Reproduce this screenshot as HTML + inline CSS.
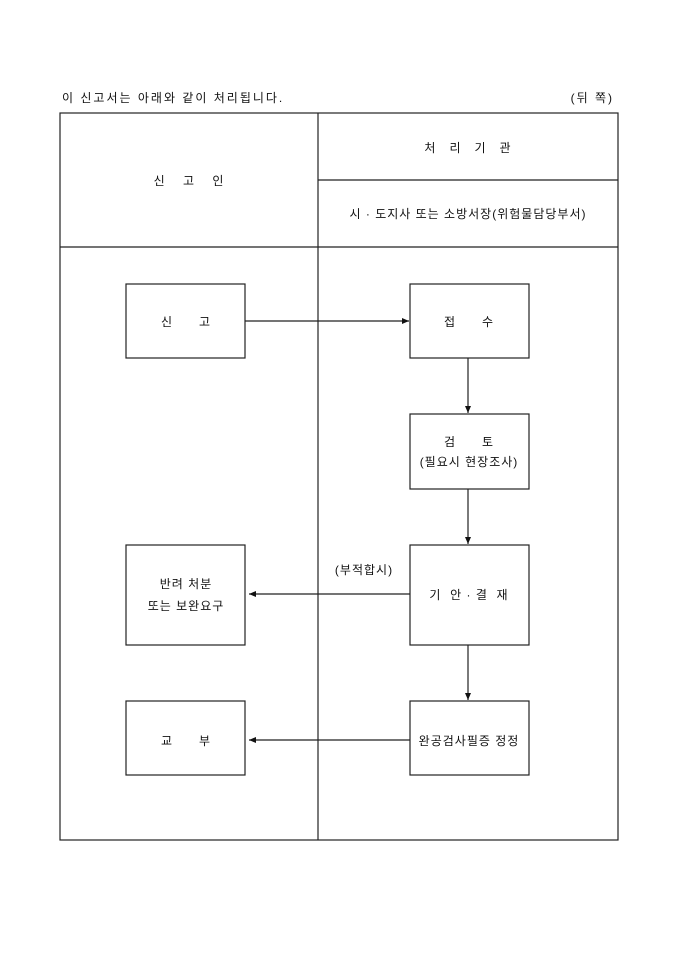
<!DOCTYPE html>
<html><head><meta charset="utf-8"><style>
html,body{margin:0;padding:0;background:#fff}
svg text{font-family:"Liberation Sans","Noto Sans CJK KR","NanumGothic",sans-serif;font-size:12px;fill:#111;letter-spacing:1px}
</style></head><body>
<svg width="680" height="962" xmlns="http://www.w3.org/2000/svg">
<defs><marker id="a" markerWidth="8" markerHeight="8" refX="7" refY="4" orient="auto" markerUnits="userSpaceOnUse"><path d="M0,1 L7,4 L0,7 z" fill="#111"/></marker></defs>
<text x="62" y="102" style="letter-spacing:2px">이 신고서는 아래와 같이 처리됩니다.</text>
<text x="614" y="102" text-anchor="end" style="letter-spacing:2px">(뒤 쪽)</text>
<g fill="none" stroke="#222" stroke-width="1.2">
<rect x="60" y="113" width="558" height="727"/>
<line x1="318" y1="113" x2="318" y2="840"/>
<line x1="318" y1="180" x2="618" y2="180"/>
<line x1="60" y1="247" x2="618" y2="247"/>
<rect x="126" y="284" width="119" height="74"/>
<rect x="126" y="545" width="119" height="100"/>
<rect x="126" y="701" width="119" height="74"/>
<rect x="410" y="284" width="119" height="74"/>
<rect x="410" y="414" width="119" height="75"/>
<rect x="410" y="545" width="119" height="100"/>
<rect x="410" y="701" width="119" height="74"/>
<line x1="245" y1="321" x2="409" y2="321" marker-end="url(#a)"/>
<line x1="468" y1="358" x2="468" y2="413" marker-end="url(#a)"/>
<line x1="468" y1="489" x2="468" y2="544" marker-end="url(#a)"/>
<line x1="468" y1="645" x2="468" y2="700" marker-end="url(#a)"/>
<line x1="410" y1="594" x2="249" y2="594" marker-end="url(#a)"/>
<line x1="410" y1="740" x2="249" y2="740" marker-end="url(#a)"/>
</g>
<g text-anchor="middle">
<text x="468" y="152" xml:space="preserve">처   리   기   관</text>
<text x="468" y="218">시 · 도지사 또는 소방서장(위험물담당부서)</text>
<text x="189" y="185" xml:space="preserve">신    고    인</text>
<text x="186" y="326" xml:space="preserve">신      고</text>
<text x="469" y="326" xml:space="preserve">접      수</text>
<text x="469" y="446" xml:space="preserve">검      토</text>
<text x="469" y="466">(필요시 현장조사)</text>
<text x="186" y="588">반려 처분</text>
<text x="186" y="610">또는 보완요구</text>
<text x="469" y="599" xml:space="preserve">기  안 · 결  재</text>
<text x="186" y="745" xml:space="preserve">교      부</text>
<text x="469" y="745">완공검사필증 정정</text>
<text x="364" y="574">(부적합시)</text>
</g>
</svg>
</body></html>
